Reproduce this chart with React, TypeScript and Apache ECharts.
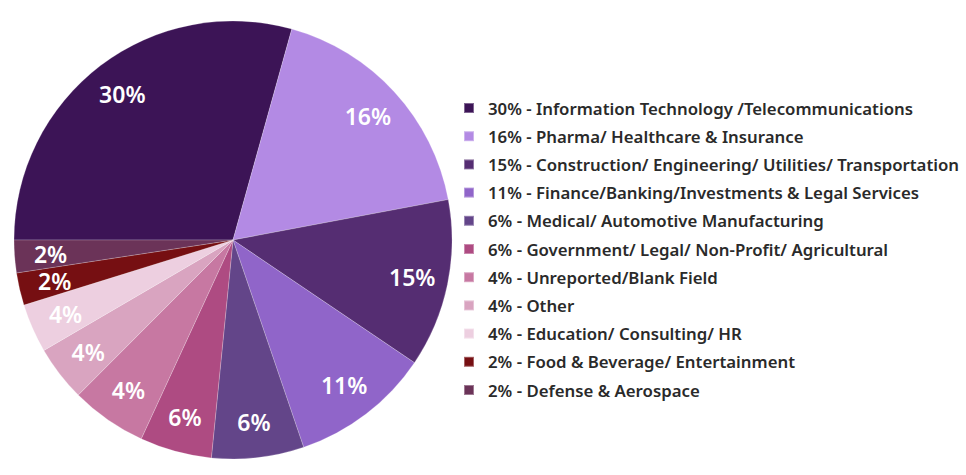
import React, { useEffect, useRef } from "react";
import * as echarts from "echarts";

const categories = [
  "Information Technology /Telecommunications",
  "Pharma/ Healthcare & Insurance",
  "Construction/ Engineering/ Utilities/ Transportation",
  "Finance/Banking/Investments & Legal Services",
  "Medical/ Automotive Manufacturing",
  "Government/ Legal/ Non-Profit/ Agricultural",
  "Unreported/Blank Field",
  "Other",
  "Education/ Consulting/ HR",
  "Food & Beverage/ Entertainment",
  "Defense & Aerospace",
];
// Percentages printed in the labels / legend
const shares = [30, 16, 15, 11, 6, 6, 4, 4, 4, 2, 2];
// Slice sizes as drawn in the picture
const sliceValues = [29.3, 17.7, 12.4, 10.3, 6.8, 5.3, 5.6, 4.1, 3.6, 2.4, 2.4];
const colors = [
  "#3c1456",
  "#b38ae4",
  "#552d72",
  "#9065c9",
  "#634589",
  "#ae4b82",
  "#c778a2",
  "#d9a4c0",
  "#edcfe0",
  "#760f12",
  "#6b3358",
];

const FONT = "'Noto Sans', sans-serif";

export default function App() {
  const ref = useRef<HTMLDivElement>(null);
  useEffect(() => {
    if (!ref.current) return;
    const chart = echarts.init(ref.current, null, { renderer: "svg" });
    const data = categories.map((name, i) => ({
      name,
      value: sliceValues[i],
      itemStyle: { color: colors[i] },
    }));
    const lookup: Record<string, number> = {};
    categories.forEach((c, i) => (lookup[c] = shares[i]));
    chart.setOption({
      animation: false,
      backgroundColor: "#ffffff",
      legend: {
        orient: "vertical",
        left: 458,
        top: 94,
        itemWidth: 10,
        itemHeight: 10,
        itemGap: 10.2,
        icon: "rect",
        data: categories,
        selectedMode: false,
        formatter: (name: string) => `${lookup[name]}% - ${name}`,
        textStyle: {
          fontFamily: FONT,
          fontSize: 16.8,
          fontWeight: 600,
          color: "#2a2a2a",
          lineHeight: 18,
          padding: [0, 0, 0, 9],
        },
      },
      series: [
        {
          type: "pie",
          center: [233, 240],
          radius: [0, 219],
          startAngle: 180,
          clockwise: true,
          silent: true,
          label: { show: false },
          labelLine: { show: false },
          itemStyle: { borderColor: "rgba(255,255,255,0.35)", borderWidth: 0.6 },
          data,
        },
        {
          type: "pie",
          center: [233, 240],
          radius: [148, 212],
          startAngle: 180,
          clockwise: true,
          silent: true,
          legendHoverLink: false,
          itemStyle: { color: "rgba(0,0,0,0)" },
          labelLine: { show: false },
          label: {
            show: true,
            position: "inside",
            formatter: (p: any) => `${shares[p.dataIndex]}%`,
            color: "#ffffff",
            fontFamily: FONT,
            fontSize: 23,
            lineHeight: 20,
            fontWeight: 600,
          },
          data: categories.map((name, i) => ({ name, value: sliceValues[i] })),
        },
      ],
    });
    return () => chart.dispose();
  }, []);
  return (
    <div
      ref={ref}
      style={{ position: "fixed", left: 0, top: 0, width: 966, height: 475 }}
    />
  );
}
